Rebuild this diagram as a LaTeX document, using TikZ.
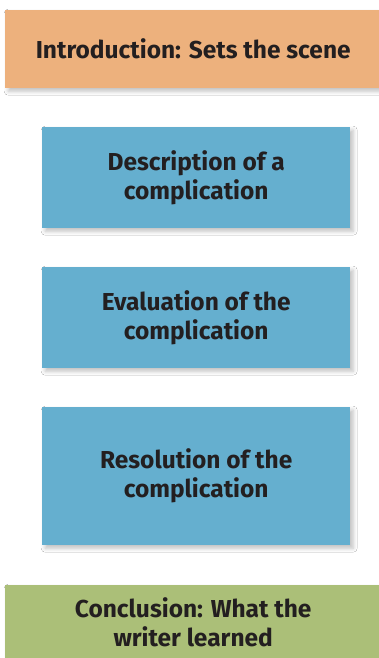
\documentclass[tikz,border=0pt]{standalone}
\usepackage{fontspec}
\setmainfont{Fira Sans}
\usetikzlibrary{shadows.blur}
\definecolor{orangebox}{HTML}{EDB17D}
\definecolor{bluebox}{HTML}{65AFCF}
\definecolor{greenbox}{HTML}{ABBF78}
\definecolor{txt}{HTML}{231F20}
\begin{document}
\begin{tikzpicture}[x=1pt,y=1pt,
  box/.style={inner sep=0pt, text=txt, font=\fontsize{24.5}{29}\selectfont\bfseries, align=center,
    blur shadow={shadow xshift=3pt, shadow yshift=-3pt, shadow blur radius=4pt, shadow opacity=25}}]
\useasboundingbox (0,0) rectangle (379,658);
\fill[white] (0,0) rectangle (379,658);
\begin{scope}
\clip (0,0) rectangle (379,658);
\node[box, fill=orangebox, minimum width=376pt, minimum height=78pt, anchor=north west] (intro) at (5,648) {Introduction: Sets the scene};
\node[box, fill=bluebox, minimum width=308pt, minimum height=101pt, anchor=north west] (desc) at (42,531) {Description of a\\complication};
\node[box, fill=bluebox, minimum width=308pt, minimum height=101pt, anchor=north west] (eval) at (42,391) {Evaluation of the\\complication};
\node[box, fill=bluebox, minimum width=308pt, minimum height=138pt, anchor=north west] (res) at (42,251) {Resolution of the\\complication};
\node[box, fill=greenbox, minimum width=376pt, minimum height=74pt, anchor=north west] (conc) at (5,73) {Conclusion: What the\\writer learned};
\end{scope}
\end{tikzpicture}
\end{document}
